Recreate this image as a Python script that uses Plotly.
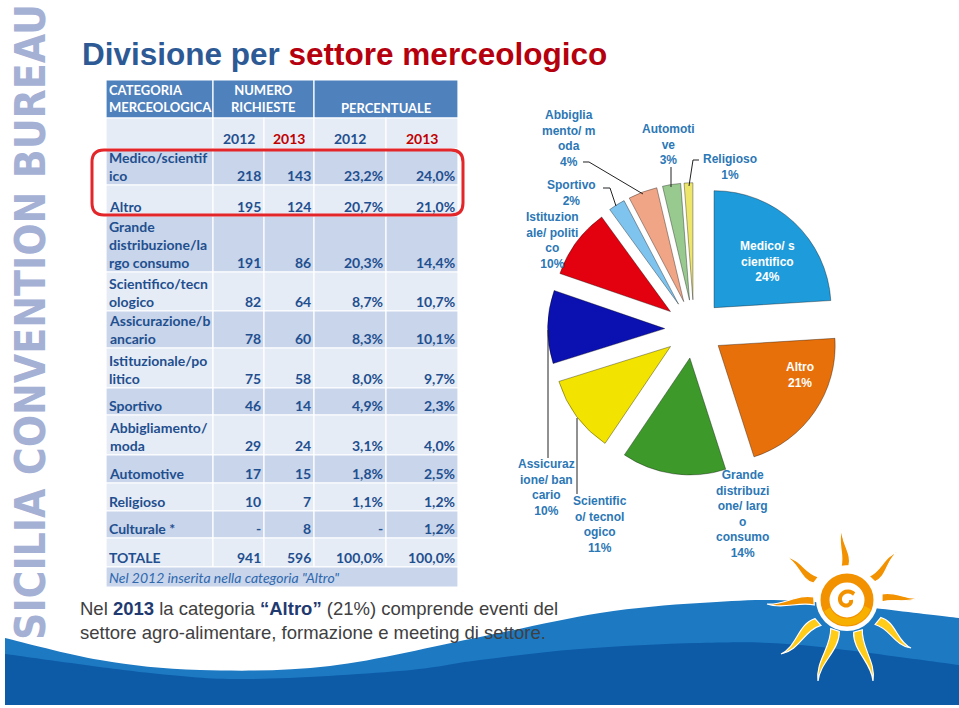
import math
import plotly.graph_objects as go

W, H = 959, 708

# ---------------- data ----------------
table_labels = ["Medico/scientif<br>ico", "Altro", "Grande<br>distribuzione/la<br>rgo consumo",
                "Scientifico/tecn<br>ologico", "Assicurazione/b<br>ancario", "Istituzionale/po<br>litico",
                "Sportivo", "Abbigliamento/<br>moda", "Automotive", "Religioso", "Culturale *", "TOTALE"]
req_2012 = [218, 195, 191, 82, 78, 75, 46, 29, 17, 10, None, 941]
req_2013 = [143, 124, 86, 64, 60, 58, 14, 24, 15, 7, 8, 596]
pct_2012 = [23.2, 20.7, 20.3, 8.7, 8.3, 8.0, 4.9, 3.1, 1.8, 1.1, None, 100.0]
pct_2013 = [24.0, 21.0, 14.4, 10.7, 10.1, 9.7, 2.3, 4.0, 2.5, 1.2, 1.2, 100.0]
year_labels = ["2012", "2013", "2012", "2013"]
header_labels = ["CATEGORIA<br>MERCEOLOGICA", "NUMERO<br>RICHIESTE", "PERCENTUALE"]
table_note = 'Nel 2012 inserita nella categoria "Altro"'

pie_categories = ["Medico/scientifico", "Altro", "Grande distribuzione/largo consumo",
                  "Scientifico/tecnologico", "Assicurazione/bancario", "Istituzionale/politico",
                  "Sportivo", "Abbigliamento/moda", "Automotive", "Religioso"]
pie_values = pct_2013[:10]
pie_label_text = ["Medico/ s<br>cientifico", "Altro", "Grande<br>distribuzi<br>one/ larg<br>o<br>consumo",
                  "Scientific<br>o/ tecnol<br>ogico", "Assicuraz<br>ione/ ban<br>cario",
                  "Istituzion<br>ale/ politi<br>co", "Sportivo", "Abbiglia<br>mento/ m<br>oda",
                  "Automoti<br>ve", "Religioso"]
pie_colors = ["#1E9BDB", "#E8700A", "#3D9A2A", "#F2E400", "#0B10B0",
              "#E3000F", "#7EC4EF", "#F0A586", "#98C98E", "#EEE66A"]


# ---------------- helpers ----------------
def X(x):
    return x / W


def Y(y):
    return 1 - y / H


def P(x, y):
    return f"{X(x):.5f},{Y(y):.5f}"


def smooth(pts):
    s = "M " + P(*pts[0])
    n = len(pts)
    for i in range(n - 1):
        p0 = pts[i - 1] if i > 0 else pts[i]
        p1, p2 = pts[i], pts[i + 1]
        p3 = pts[i + 2] if i + 2 < n else pts[i + 1]
        c1 = (p1[0] + (p2[0] - p0[0]) / 6, p1[1] + (p2[1] - p0[1]) / 6)
        c2 = (p2[0] - (p3[0] - p1[0]) / 6, p2[1] - (p3[1] - p1[1]) / 6)
        s += f" C {P(*c1)} {P(*c2)} {P(*p2)}"
    return s


def fmt_num(v):
    return "-" if v is None else str(v)


def fmt_pct(v):
    return "-" if v is None else f"{v:.1f}".replace(".", ",") + "%"


shapes = []
ann = []


def rect(x0, y0, x1, y1, fill, line="white", lw=1.2):
    shapes.append(dict(type="rect", xref="paper", yref="paper", x0=X(x0), x1=X(x1), y0=Y(y1), y1=Y(y0),
                       fillcolor=fill, line=dict(color=line, width=lw), layer="below"))


def text(x, y, s, size=14, color="#1F4F8F", xa="left", ya="middle", family="Lato", **kw):
    ann.append(dict(x=X(x), y=Y(y), xref="paper", yref="paper", text=s, showarrow=False,
                    xanchor=xa, yanchor=ya, align=xa if xa != "center" else "center",
                    font=dict(size=size, color=color, family=family), **kw))


# ---------------- bottom wave decoration ----------------
light_top = [(5, 638), (100, 660), (200, 670), (330, 666), (480, 637), (600, 613), (700, 603),
             (800, 601), (959, 618)]
dark_top = [(5, 654), (150, 673), (250, 679), (400, 671), (480, 660), (580, 649), (700, 643),
            (800, 645), (959, 665)]
shapes.append(dict(type="path", xref="paper", yref="paper",
                   path=smooth(light_top) + f" L {P(959, 705)} L {P(5, 705)} Z",
                   fillcolor="#1D79C2", line=dict(width=0), layer="below"))
shapes.append(dict(type="path", xref="paper", yref="paper",
                   path=smooth(dark_top) + f" L {P(959, 705)} L {P(5, 705)} Z",
                   fillcolor="#0D5AA7", line=dict(width=0), layer="below"))

# ---------------- sun logo ----------------
cx, cy = 847, 600


def ray(b, t, w, bend, color):
    dx, dy = t[0] - b[0], t[1] - b[1]
    L = math.hypot(dx, dy)
    ux, uy = dx / L, dy / L
    nx, ny = -uy, ux
    lb = (b[0] + nx * w / 2, b[1] + ny * w / 2)
    rb = (b[0] - nx * w / 2, b[1] - ny * w / 2)
    q1 = (b[0] + dx * 0.33 + nx * bend * L, b[1] + dy * 0.33 + ny * bend * L)
    q2 = (b[0] + dx * 0.66 - nx * bend * L, b[1] + dy * 0.66 - ny * bend * L)
    path = (f"M {P(*lb)} C {P(q1[0] + nx * w / 2, q1[1] + ny * w / 2)} {P(q2[0] + nx * w / 4, q2[1] + ny * w / 4)} {P(*t)} "
            f"C {P(q2[0] - nx * w / 4, q2[1] - ny * w / 4)} {P(q1[0] - nx * w / 2, q1[1] - ny * w / 2)} {P(*rb)} Z")
    shapes.append(dict(type="path", xref="paper", yref="paper", path=path, fillcolor=color,
                       line=dict(color="white", width=1.2)))


shapes.append(dict(type="circle", xref="paper", yref="paper", x0=X(cx - 31), x1=X(cx + 31),
                   y0=Y(cy + 31), y1=Y(cy - 31), fillcolor="white", line=dict(width=0)))
orange, yellow = "#F39200", "#FFCC1A"
for b, t, w, bend, c in [((845, 566), (842, 529), 8, 0.12, orange),
                         ((816, 580), (786, 557), 8, -0.15, orange),
                         ((872, 579), (898, 552), 8, 0.15, orange),
                         ((814, 601), (767, 604), 8, 0.1, orange),
                         ((882, 598), (918, 598), 8, -0.1, orange),
                         ((818, 622), (781, 654), 9, 0.15, yellow),
                         ((835, 630), (818, 681), 9, -0.12, yellow),
                         ((858, 631), (873, 681), 9, 0.12, yellow),
                         ((878, 621), (911, 648), 9, -0.15, yellow)]:
    ray(b, t, w, bend, c)
shapes.append(dict(type="circle", xref="paper", yref="paper", x0=X(cx - 22), x1=X(cx + 22),
                   y0=Y(cy + 22), y1=Y(cy - 22), line=dict(color=orange, width=9)))
arc_pts = [(cx + 22 * math.cos(math.radians(a)), cy + 22 * math.sin(math.radians(a))) for a in range(20, 170, 15)]
shapes.append(dict(type="path", xref="paper", yref="paper", path=smooth(arc_pts),
                   line=dict(color="#F7B000", width=7)))
sp = [(cx + (4 + a / 60) * math.cos(math.radians(a)), cy + (4 + a / 60) * math.sin(math.radians(a)))
      for a in range(0, 330, 20)]
shapes.append(dict(type="path", xref="paper", yref="paper", path=smooth(sp),
                   line=dict(color=orange, width=4)))

# ---------------- vertical brand text ----------------
text(30, 322, "<b>SICILIA CONVENTION BUREAU</b>", size=42.3, color="#A5B0D5", xa="center",
     family="Liberation Sans Narrow, DejaVu Sans Condensed, Arial Narrow, Liberation Sans", textangle=-90)

# ---------------- title ----------------
text(80, 54, "<b>Divisione per <span style='color:#B5000E'>settore merceologico</span></b>",
     size=31.5, color="#2D5A95", family="Liberation Sans, Arial")

# ---------------- table ----------------
col_edges = [106, 213, 264, 314, 386, 458]
row_edges = [149, 185, 216, 272, 311, 348, 388, 415, 455, 483, 511, 538, 567]
hdr_top, hdr_bot, yr_bot, note_bot = 80, 118, 149, 587
c_dark, c_light, c_head = "#C8D5EA", "#E6ECF5", "#4F81BD"
txt_col = "#1F4F8F"

rect(col_edges[0], hdr_top, col_edges[1], hdr_bot, c_head)
rect(col_edges[1], hdr_top, col_edges[3], hdr_bot, c_head)
rect(col_edges[3], hdr_top, col_edges[5], hdr_bot, c_head)
text(107, 99, "<b>" + header_labels[0] + "</b>", size=13, color="white")
text((col_edges[1] + col_edges[3]) / 2, 99, "<b>" + header_labels[1] + "</b>", size=13, color="white", xa="center")
text((col_edges[3] + col_edges[5]) / 2, 108, "<b>" + header_labels[2] + "</b>", size=13, color="white", xa="center")

for j in range(5):
    rect(col_edges[j], hdr_bot, col_edges[j + 1], yr_bot, c_light)
for j, yl in enumerate(year_labels):
    col = "#C00000" if yl == "2013" else txt_col
    text((col_edges[j + 1] + col_edges[j + 2]) / 2, 138, f"<b>{yl}</b>", color=col, xa="center")

for i, lab in enumerate(table_labels):
    y0, y1 = row_edges[i], row_edges[i + 1]
    fill = c_dark if i % 2 == 0 else c_light
    for j in range(5):
        rect(col_edges[j], y0, col_edges[j + 1], y1, fill)
    yb = y1 + 1
    text(107, yb, f"<b>{lab}</b>", ya="bottom")
    vals = [fmt_num(req_2012[i]), fmt_num(req_2013[i]), fmt_pct(pct_2012[i]), fmt_pct(pct_2013[i])]
    for j, v in enumerate(vals):
        text(col_edges[j + 2] - 1, yb, f"<b>{v}</b>", xa="right", ya="bottom")

rect(col_edges[0], row_edges[-1], col_edges[-1], note_bot, c_dark)
text(107, 577, f"<i>{table_note}</i>", color="#2F68AE")

# red rounded highlight
rx0, ry0, rx1, ry1, rr = 92, 150, 463, 215, 12
shapes.append(dict(type="path", xref="paper", yref="paper",
                   path=(f"M {P(rx0 + rr, ry0)} L {P(rx1 - rr, ry0)} Q {P(rx1, ry0)} {P(rx1, ry0 + rr)} "
                         f"L {P(rx1, ry1 - rr)} Q {P(rx1, ry1)} {P(rx1 - rr, ry1)} L {P(rx0 + rr, ry1)} "
                         f"Q {P(rx0, ry1)} {P(rx0, ry1 - rr)} L {P(rx0, ry0 + rr)} Q {P(rx0, ry0)} {P(rx0 + rr, ry0)} Z"),
                   line=dict(color="#E3262A", width=3)))

# ---------------- body text ----------------
altro_pct = f"{pct_2013[1]:.0f}%"
navy = "#1F3A70"
text(78, 620, f"Nel <b><span style='color:{navy}'>2013</span></b> la categoria "
              f"<b><span style='color:{navy}'>“Altro”</span></b> ({altro_pct}) comprende eventi del<br>"
              "settore agro-alimentare, formazione e meeting di settore.",
     size=18.5, color="#404040", family="Liberation Sans, Arial")

# ---------------- pie ----------------
pcx, pcy, prad, pull = 694, 329, 117, 0.25
half = prad * (1 + pull)
pie = go.Pie(labels=pie_categories, values=pie_values, sort=False, direction="clockwise", rotation=0,
             pull=pull, textinfo="none", hoverinfo="skip", showlegend=False,
             marker=dict(colors=pie_colors, line=dict(color="rgba(0,0,0,0.35)", width=1)),
             domain=dict(x=[X(pcx - half), X(pcx + half)], y=[Y(pcy + half), Y(pcy - half)]))

total = sum(pie_values)
pcts = [round(v / total * 100) for v in pie_values]
label_pos = [(767, 261), (800, 375), (742, 514), (600, 524), (546, 487), (552, 240),
             (571, 193), (568, 138), (668, 145), (730, 167)]
lab_blue = "#2C77B5"
for k, (lx, ly) in enumerate(label_pos):
    col = "white" if k < 2 else lab_blue
    text(lx, ly, f"<b>{pie_label_text[k]}<br>{pcts[k]}%</b>", size=12, color=col, xa="center",
         family="Liberation Sans, Arial")

for pts in [[(583, 162), (589, 162), (643, 194)],
            [(671, 167), (671, 187)],
            [(699, 160), (693, 160), (689, 186)],
            [(603, 188), (610, 188), (616, 206)],
            [(548, 330), (548, 458)],
            [(577, 418), (577, 494)]]:
    shapes.append(dict(type="path", xref="paper", yref="paper",
                       path="M " + " L ".join(P(*p) for p in pts), line=dict(color="#222222", width=1)))

fig = go.Figure(pie)
fig.update_layout(width=W, height=H, margin=dict(l=0, r=0, t=0, b=0), paper_bgcolor="white",
                  plot_bgcolor="white", shapes=shapes, annotations=ann, showlegend=False)
fig.write_html("out.html")
